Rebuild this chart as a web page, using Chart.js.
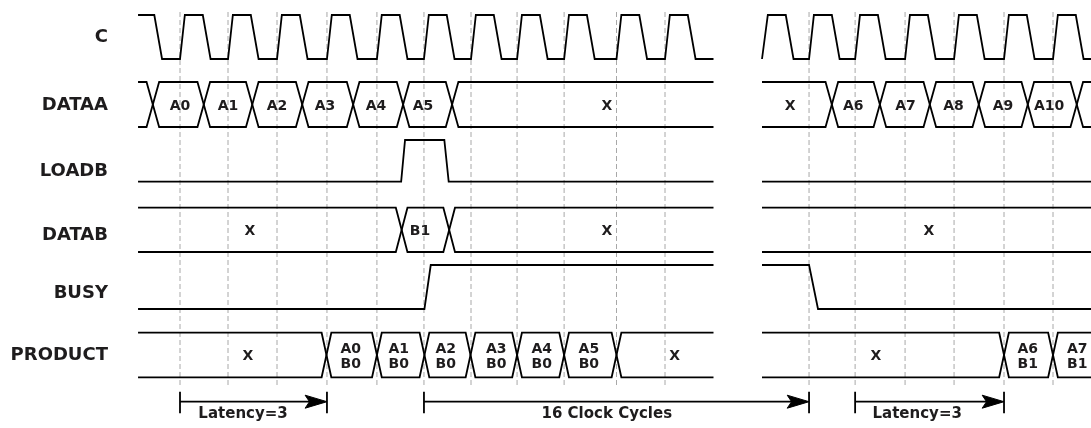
<!DOCTYPE html>
<html>
<head>
<meta charset="utf-8">
<script src="https://cdn.jsdelivr.net/npm/chart.js@4/dist/chart.umd.min.js"></script>
<style>
html, body { margin: 0; padding: 0; background: #fff; }
canvas { display: block; }
</style>
</head>
<body>
<canvas id="timing" width="1091" height="428"></canvas>
<script>
// all times are in clock periods
var signalNames = ["C", "DATAA", "LOADB", "DATAB", "BUSY", "PRODUCT"];

var guideTimes = [1.0, 1.99, 3.0, 4.03, 5.06, 6.03, 7.0, 7.95, 8.92, 10.0, 11.0,
                  13.97, 14.92, 15.95, 16.96, 17.99, 19.0];
var leftPart = [0.135, 12.0];
var rightPart = [13.0, 19.79];

var clockRisesLeft = [0.0, 1.0, 1.99, 3.0, 4.03, 5.06, 6.03, 7.0, 7.95, 8.92, 10.0, 11.0];
var clockRisesRight = [13.02, 13.97, 14.92, 15.95, 16.96, 17.99, 19.0];

var dataaCrossLeft = [0.44, 1.49, 2.49, 3.52, 4.57, 5.6, 6.61];
var dataaValsLeft = ["", "A0", "A1", "A2", "A3", "A4", "A5", "X"];
var dataaAtLeft = [0, 1.0, 1.99, 3.0, 3.99, 5.04, 6.01, 9.8];
var dataaCrossRight = [14.44, 15.43, 16.46, 17.47, 18.48, 19.49];
var dataaValsRight = ["X", "A6", "A7", "A8", "A9", "A10", ""];
var dataaAtRight = [13.58, 14.88, 15.96, 16.95, 17.97, 18.92, 0];

var loadbTimesLeft = [0.135, 5.56, 5.64, 6.45, 6.54, 12.0];
var loadbLevelsLeft = [0, 0, 1, 1, 0, 0];
var loadbTimesRight = [13.0, 19.79];
var loadbLevelsRight = [0, 0];

var databCrossLeft = [5.57, 6.55];
var databValsLeft = ["X", "B1", "X"];
var databAtLeft = [2.44, 5.95, 9.8];
var databCrossRight = [];
var databValsRight = ["X"];
var databAtRight = [16.44];

var busyTimesLeft = [0.135, 6.04, 6.17, 12.0];
var busyLevelsLeft = [0, 0, 1, 1];
var busyTimesRight = [13.0, 13.97, 14.155, 19.79];
var busyLevelsRight = [1, 1, 0, 0];

var productCrossLeft = [4.02, 5.06, 6.04, 6.99, 7.95, 8.92, 10.0];
var productValsLeft = ["X", "A0|B0", "A1|B0", "A2|B0", "A3|B0", "A4|B0", "A5|B0", "X"];
var productAtLeft = [2.4, 4.52, 5.51, 6.48, 7.52, 8.46, 9.43, 11.2];
var productCrossRight = [17.99, 19.0];
var productValsRight = ["X", "A6|B1", "A7|B1"];
var productAtRight = [15.35, 18.48, 19.5];

var spans = [
  { from: 1.0, to: 4.03, text: "Latency=3", at: 2.3 },
  { from: 6.03, to: 13.97, text: "16 Clock Cycles", at: 9.8 },
  { from: 14.92, to: 17.99, text: "Latency=3", at: 16.2 }
];

// layout (y in canvas units, x in clock periods)
var rows = {
  C: { hi: 15, lo: 59, text: 35.8 },
  DATAA: { hi: 82, lo: 127, text: 103.3 },
  LOADB: { hi: 140, lo: 181.7, text: 169.2 },
  DATAB: { hi: 207.7, lo: 252, text: 233.3 },
  BUSY: { hi: 265, lo: 309, text: 291.7 },
  PRODUCT: { hi: 332.7, lo: 377.3, text: 353.5 }
};
var nameX = -0.485;
var arrowY = 401.7;
var ink = "#000";
var textInk = "#1e1c1d";

function lvl(row, v) {
  return rows[row].lo + (rows[row].hi - rows[row].lo) * v;
}

function valueAt(pts, t) {
  if (t <= pts[0][0]) return pts[0][1];
  for (var i = 0; i < pts.length - 1; i++) {
    var a = pts[i], b = pts[i + 1];
    if (t >= a[0] && t <= b[0]) {
      return a[1] + (b[1] - a[1]) * (t - a[0]) / (b[0] - a[0]);
    }
  }
  return pts[pts.length - 1][1];
}

function clip(pts, from, to) {
  var out = [[from, valueAt(pts, from)]];
  pts.forEach(function (p) {
    if (p[0] > from && p[0] < to) out.push(p);
  });
  out.push([to, valueAt(pts, to)]);
  return out;
}

function clockPoints(rises, part) {
  var pts = [];
  rises.forEach(function (k) {
    pts.push([k, 0], [k + 0.1, 1], [k + 0.47, 1], [k + 0.63, 0]);
  });
  return clip(pts, part[0], part[1]);
}

function busPaths(cross, part, w) {
  var a = [[part[0], 1]], b = [[part[0], 0]];
  var up = 1;
  cross.forEach(function (c) {
    a.push([c - w, up], [c + w, 1 - up]);
    b.push([c - w, 1 - up], [c + w, up]);
    up = 1 - up;
  });
  a.push([part[1], up]);
  b.push([part[1], 1 - up]);
  return [a, b];
}

function zip(times, levels) {
  return times.map(function (t, i) { return [t, levels[i]]; });
}

function lineSet(pts, row) {
  return {
    data: pts.map(function (p) { return { x: p[0], y: lvl(row, p[1]) }; }),
    showLine: true,
    borderColor: ink,
    borderWidth: 1.8,
    pointRadius: 0,
    fill: false,
    tension: 0
  };
}

var datasets = [];

// dashed guides behind everything
guideTimes.forEach(function (t) {
  datasets.push({
    data: [{ x: t, y: 12 }, { x: t, y: 388 }],
    showLine: true,
    borderColor: "#a8a8a8",
    borderWidth: 1,
    borderDash: [5, 3],
    pointRadius: 0,
    order: 1
  });
});

datasets.push(lineSet(clockPoints(clockRisesLeft, leftPart), "C"));
datasets.push(lineSet(clockPoints(clockRisesRight, rightPart), "C"));

busPaths(dataaCrossLeft, leftPart, 0.13).forEach(function (p) { datasets.push(lineSet(p, "DATAA")); });
busPaths(dataaCrossRight, rightPart, 0.13).forEach(function (p) { datasets.push(lineSet(p, "DATAA")); });

datasets.push(lineSet(zip(loadbTimesLeft, loadbLevelsLeft), "LOADB"));
datasets.push(lineSet(zip(loadbTimesRight, loadbLevelsRight), "LOADB"));

busPaths(databCrossLeft, leftPart, 0.12).forEach(function (p) { datasets.push(lineSet(p, "DATAB")); });
busPaths(databCrossRight, rightPart, 0.12).forEach(function (p) { datasets.push(lineSet(p, "DATAB")); });

datasets.push(lineSet(zip(busyTimesLeft, busyLevelsLeft), "BUSY"));
datasets.push(lineSet(zip(busyTimesRight, busyLevelsRight), "BUSY"));

busPaths(productCrossLeft, leftPart, 0.1).forEach(function (p) { datasets.push(lineSet(p, "PRODUCT")); });
busPaths(productCrossRight, rightPart, 0.1).forEach(function (p) { datasets.push(lineSet(p, "PRODUCT")); });

// span arrows at the bottom
spans.forEach(function (s) {
  var plain = { showLine: true, borderColor: ink, borderWidth: 1.8, pointRadius: 0, fill: false };
  datasets.push(Object.assign({ data: [{ x: s.from, y: arrowY }, { x: s.to - 0.2, y: arrowY }] }, plain));
  datasets.push(Object.assign({ data: [{ x: s.from, y: 391.7 }, { x: s.from, y: 413.3 }] }, plain));
  datasets.push(Object.assign({ data: [{ x: s.to, y: 391.7 }, { x: s.to, y: 413.3 }] }, plain));
  datasets.push({
    data: [
      { x: s.to - 0.45, y: arrowY - 6.5 },
      { x: s.to, y: arrowY },
      { x: s.to - 0.45, y: arrowY + 6.5 },
      { x: s.to - 0.36, y: arrowY },
      { x: s.to - 0.45, y: arrowY - 6.5 }
    ],
    showLine: true,
    borderColor: ink,
    borderWidth: 1,
    backgroundColor: ink,
    pointRadius: 0,
    fill: "shape"
  });
});

function putText(ctx, str, px, cy, size) {
  // cy is the middle of the capitals
  ctx.fillText(str, px, cy + 0.36 * size);
}

var textPlugin = {
  id: "timingText",
  afterDatasetsDraw: function (chart) {
    var ctx = chart.ctx;
    var sx = chart.scales.x, sy = chart.scales.y;
    ctx.save();
    ctx.fillStyle = textInk;
    ctx.textBaseline = "alphabetic";

    ctx.font = "bold 18px 'DejaVu Sans'";
    ctx.textAlign = "right";
    signalNames.forEach(function (n) {
      putText(ctx, n, sx.getPixelForValue(nameX), sy.getPixelForValue(rows[n].text), 18);
    });

    ctx.textAlign = "center";
    ctx.font = "bold 14px 'DejaVu Sans'";
    function cells(vals, at, row) {
      var mid = (rows[row].hi + rows[row].lo) / 2;
      vals.forEach(function (v, i) {
        if (!v) return;
        var px = sx.getPixelForValue(at[i]);
        var parts = v.split("|");
        if (parts.length == 1) {
          putText(ctx, v, px, sy.getPixelForValue(mid), 14);
        } else {
          putText(ctx, parts[0], px, sy.getPixelForValue(mid - 7), 14);
          putText(ctx, parts[1], px, sy.getPixelForValue(mid + 7.5), 14);
        }
      });
    }
    cells(dataaValsLeft, dataaAtLeft, "DATAA");
    cells(dataaValsRight, dataaAtRight, "DATAA");
    cells(databValsLeft, databAtLeft, "DATAB");
    cells(databValsRight, databAtRight, "DATAB");
    cells(productValsLeft, productAtLeft, "PRODUCT");
    cells(productValsRight, productAtRight, "PRODUCT");

    ctx.font = "bold 15px 'DejaVu Sans'";
    spans.forEach(function (s) {
      ctx.fillText(s.text, sx.getPixelForValue(s.at), sy.getPixelForValue(418));
    });
    ctx.restore();
  }
};

new Chart(document.getElementById("timing"), {
  type: "scatter",
  data: { datasets: datasets },
  options: {
    responsive: false,
    animation: false,
    devicePixelRatio: 1,
    layout: { padding: 0 },
    scales: {
      x: { type: "linear", min: -131.5 / 48.5, max: (1091 - 131.5) / 48.5, display: false },
      y: { type: "linear", min: 0, max: 428, reverse: true, display: false }
    },
    plugins: { legend: { display: false }, tooltip: { enabled: false } },
    events: []
  },
  plugins: [textPlugin]
});
</script>
</body>
</html>
